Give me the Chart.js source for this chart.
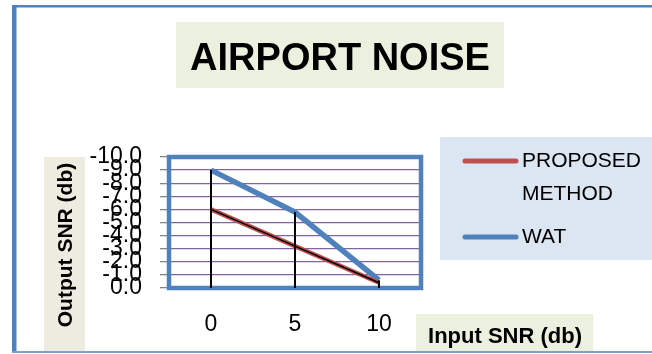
<!DOCTYPE html>
<html>
<head>
<meta charset="utf-8">
<script src="https://cdn.jsdelivr.net/npm/chart.js@4"></script>
<style>
  html, body { margin: 0; padding: 0; background: #ffffff; }
  canvas { display: block; }
</style>
</head>
<body>
<canvas id="chart" width="652" height="354"></canvas>
<script>
// Input SNR categories (db)
const categories = ['0', '5', '10'];
// Output SNR values (db) per method
const proposedMethod = [-6.0, -3.2, -0.4];
const wat = [-9.0, -5.8, -0.6];
// Output SNR axis range and step
const yMin = -10;
const yMax = 0;
const yStep = 1;

const chartTitle = 'AIRPORT NOISE';
const xTitle = 'Input SNR (db)';
const yTitle = 'Output SNR (db)';

const BLUE = '#4f81bd';
const RED = '#c0504d';
const FONT = '"Liberation Sans", Arial, sans-serif';

// Word-wrap a legend label into lines no wider than maxW
function wrapText(ctx, text, maxW) {
  const words = text.split(' ');
  const lines = [];
  let cur = '';
  words.forEach(w => {
    const test = cur ? cur + ' ' + w : w;
    if (cur && ctx.measureText(test).width > maxW) {
      lines.push(cur);
      cur = w;
    } else {
      cur = test;
    }
  });
  if (cur) lines.push(cur);
  return lines;
}

const decorPlugin = {
  id: 'decor',
  beforeDraw(chart) {
    const ctx = chart.ctx;
    ctx.save();
    ctx.fillStyle = '#ffffff';
    ctx.fillRect(0, 0, chart.width, chart.height);

    // outer frame
    ctx.fillStyle = BLUE;
    ctx.fillRect(12, 5, 640, 2.5);
    ctx.fillRect(12, 5, 4.5, 348);
    ctx.fillStyle = '#7da0cf';
    ctx.fillRect(12, 351, 640, 2);

    // title panel
    ctx.fillStyle = '#ebf1de';
    ctx.fillRect(176, 22, 328, 66);
    ctx.fillStyle = '#000000';
    ctx.font = 'bold 38px ' + FONT;
    ctx.textAlign = 'center';
    ctx.textBaseline = 'middle';
    ctx.fillText(chartTitle, 340, 60);

    // y axis title panel
    ctx.fillStyle = '#eeece1';
    ctx.fillRect(44, 157, 41, 194);
    ctx.save();
    ctx.translate(66, 245);
    ctx.rotate(-Math.PI / 2);
    ctx.fillStyle = '#000000';
    ctx.font = 'bold 21px ' + FONT;
    ctx.textAlign = 'center';
    ctx.textBaseline = 'middle';
    ctx.fillText(yTitle, 0, 0);
    ctx.restore();

    // x axis title panel
    ctx.fillStyle = '#ebf1de';
    ctx.fillRect(416, 314, 177, 37);
    ctx.fillStyle = '#000000';
    ctx.font = 'bold 22px ' + FONT;
    ctx.textAlign = 'center';
    ctx.textBaseline = 'middle';
    ctx.fillText(xTitle, 505, 337);

    // legend panel, entries taken from the datasets
    ctx.fillStyle = '#dce6f2';
    ctx.fillRect(440, 137, 212, 123);
    ctx.font = '21px ' + FONT;
    ctx.textAlign = 'left';
    ctx.textBaseline = 'middle';
    let y = 161;
    chart.data.datasets.filter(d => d.inLegend).forEach(d => {
      ctx.strokeStyle = d.borderColor;
      ctx.lineWidth = 5;
      ctx.lineCap = 'round';
      ctx.beginPath();
      ctx.moveTo(465, y);
      ctx.lineTo(516, y);
      ctx.stroke();
      ctx.fillStyle = '#000000';
      const lines = wrapText(ctx, d.label, 125);
      lines.forEach((ln, i) => ctx.fillText(ln, 522, y + i * 33));
      y += lines.length * 33 + 10;
    });
    ctx.restore();
  },
  beforeDatasetsDraw(chart) {
    // plot area border
    const { ctx, chartArea: a } = chart;
    ctx.save();
    ctx.strokeStyle = BLUE;
    ctx.lineWidth = 4.5;
    ctx.strokeRect(a.left, a.top, a.right - a.left, a.bottom - a.top);
    ctx.restore();
  },
  afterDatasetsDraw(chart) {
    // drop lines from the highest point at each category to the axis
    const { ctx, chartArea: a, scales } = chart;
    ctx.save();
    ctx.strokeStyle = '#000000';
    ctx.lineWidth = 2;
    categories.forEach((c, i) => {
      const top = Math.min(...chart.data.datasets.map(d => scales.y.getPixelForValue(d.data[i])));
      const x = scales.x.getPixelForValue(i);
      ctx.beginPath();
      ctx.moveTo(x, top);
      ctx.lineTo(x, a.bottom);
      ctx.stroke();
    });
    ctx.restore();
  }
};

new Chart(document.getElementById('chart'), {
  type: 'line',
  data: {
    labels: categories,
    datasets: [
      {
        label: 'PROPOSED METHOD',
        data: proposedMethod,
        borderColor: '#000000',
        borderWidth: 1.5,
        pointRadius: 0,
        inLegend: false
      },
      {
        label: 'PROPOSED METHOD',
        data: proposedMethod,
        borderColor: RED,
        borderWidth: 4.5,
        pointRadius: 0,
        inLegend: true
      },
      {
        label: 'WAT',
        data: wat,
        borderColor: BLUE,
        borderWidth: 5.5,
        pointRadius: 0,
        inLegend: true
      }
    ]
  },
  options: {
    responsive: false,
    animation: false,
    layout: { padding: { top: 157, right: 231, bottom: 0, left: 0 } },
    plugins: {
      legend: { display: false },
      title: { display: false },
      tooltip: { enabled: false }
    },
    scales: {
      x: {
        type: 'category',
        offset: true,
        grid: { display: false, drawTicks: false },
        border: { display: false },
        ticks: {
          color: '#000000',
          font: { family: FONT, size: 23 },
          padding: 23,
          maxRotation: 0
        },
        afterFit(s) { s.height = 66; }
      },
      y: {
        reverse: true,
        min: yMin,
        max: yMax,
        border: { display: false },
        grid: {
          color: '#8064a2',
          lineWidth: 1.3,
          tickColor: '#868686',
          tickLength: 9,
          drawTicks: true
        },
        ticks: {
          stepSize: yStep,
          color: '#000000',
          font: { family: FONT, size: 23 },
          padding: 18,
          autoSkip: false,
          callback: v => Number(v).toFixed(1)
        },
        afterFit(s) { s.width = 169; }
      }
    }
  },
  plugins: [decorPlugin]
});
</script>
</body>
</html>
